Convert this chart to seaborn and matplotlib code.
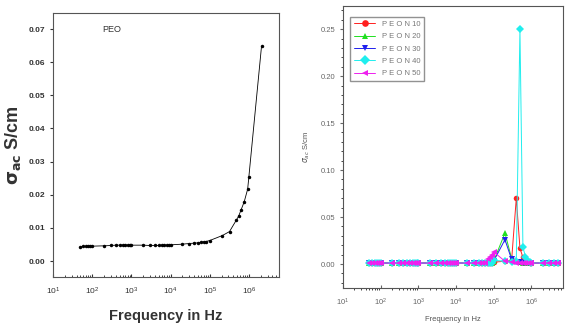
import seaborn as sns
import matplotlib.pyplot as plt
from matplotlib.ticker import LogLocator, NullFormatter, MultipleLocator

# left panel: PEO
freq_peo = [50, 60, 70, 80, 90, 100, 200, 300, 400, 500, 600, 700, 800, 900, 1000,
            2000, 3000, 4000, 5000, 6000, 7000, 8000, 9000, 10000,
            20000, 30000, 40000, 50000, 60000, 70000, 80000, 100000,
            210000, 320000, 480000, 550000, 630000, 760000, 930000, 1000000, 2100000]
sigma_peo = [0.0043, 0.0044, 0.0044, 0.0045, 0.0045, 0.0045, 0.0046, 0.0047, 0.0048, 0.0048,
             0.0048, 0.0048, 0.0048, 0.0048, 0.0048,
             0.0048, 0.0047, 0.0047, 0.0047, 0.0048, 0.0048, 0.0048, 0.0048, 0.0049,
             0.0051, 0.0053, 0.0054, 0.0055, 0.0057, 0.0058, 0.0059, 0.0062,
             0.0077, 0.0089, 0.0124, 0.0136, 0.0154, 0.0179, 0.0217, 0.0255, 0.0648]

# right panel: PEON series
freq = [50, 60, 70, 80, 90, 100, 200, 300, 400, 500, 600, 700, 800, 900, 1000,
        2000, 3000, 4000, 5000, 6000, 7000, 8000, 9000, 10000,
        20000, 30000, 40000, 50000, 60000, 70000, 80000, 90000, 100000,
        200000, 300000, 400000, 500000, 600000, 700000, 800000, 900000, 1000000,
        2000000, 3000000, 4000000, 5000000]
base = [0.001] * 32
peon10 = base + [0.002, 0.003, 0.004, 0.070, 0.017, 0.007, 0.003, 0.002, 0.001, 0.001, 0.001, 0.001, 0.001, 0.001]
peon20 = base + [0.003, 0.033, 0.006, 0.003, 0.002, 0.001, 0.001, 0.001, 0.001, 0.001, 0.001, 0.001, 0.001, 0.001]
peon30 = base + [0.003, 0.026, 0.005, 0.002, 0.002, 0.001, 0.001, 0.001, 0.001, 0.001, 0.001, 0.001, 0.001, 0.001]
peon40 = base + [0.004, 0.003, 0.002, 0.003, 0.250, 0.018, 0.008, 0.003, 0.002, 0.001, 0.001, 0.001, 0.001, 0.001]
peon50 = [0.001] * 29 + [0.005, 0.007, 0.010, 0.013, 0.003, 0.002, 0.001, 0.001, 0.001, 0.001, 0.001, 0.001, 0.001,
                         0.001, 0.001, 0.001, 0.001]

labels = ["P E O N 10", "P E O N 20", "P E O N 30", "P E O N 40", "P E O N 50"]
series = [peon10, peon20, peon30, peon40, peon50]
colors = ["#ff2020", "#20e020", "#2020ee", "#20eeee", "#ee20ee"]
markers = ["o", "^", "v", "D", "<"]

sns.set_style("ticks")
plt.rcParams["font.family"] = ["Liberation Sans", "DejaVu Sans"]

fig = plt.figure(figsize=(5.68, 3.34), dpi=100)
ax1 = fig.add_axes([0.0933, 0.1707, 0.398, 0.790])
ax2 = fig.add_axes([0.604, 0.1377, 0.387, 0.844])

# left
sns.lineplot(x=freq_peo, y=sigma_peo, ax=ax1, color="black", marker="o",
             markersize=2.5, markeredgewidth=0, linewidth=0.6)
ax1.set_xscale("log")
ax1.set_xlim(10, 10 ** 6.77)
ax1.set_ylim(-0.0048, 0.0748)
ax1.yaxis.set_major_locator(MultipleLocator(0.01))
ax1.yaxis.set_major_formatter(plt.FuncFormatter(lambda v, p: f"{v:.2f}"))
ax1.xaxis.set_major_locator(LogLocator(base=10, numticks=10))
ax1.xaxis.set_minor_locator(LogLocator(base=10, subs=range(2, 10), numticks=100))
ax1.xaxis.set_minor_formatter(NullFormatter())
ax1.tick_params(axis="x", direction="in", labelsize=6, length=2, pad=6, colors="#333333")
ax1.tick_params(axis="x", which="minor", direction="in", length=1.2)
ax1.tick_params(axis="y", labelsize=6, length=2, colors="#333333")
for t in ax1.get_yticklabels():
    t.set_fontweight("bold")
ax1.set_xlabel("Frequency in Hz", fontsize=10.5, fontweight="bold", color="#333333", labelpad=9)
ax1.set_ylabel(r"$\mathbf{\sigma_{ac}}$ S/cm", fontsize=13, fontweight="bold", color="#333333", labelpad=4)
ax1.text(0.22, 0.93, "PEO", transform=ax1.transAxes, fontsize=6.5, color="#333333")
for s in ax1.spines.values():
    s.set_color("#555555")
    s.set_linewidth(0.8)

# right
for vals, lab, c, m in zip(series, labels, colors, markers):
    sns.lineplot(x=freq, y=vals, ax=ax2, color=c, marker=m, markersize=4,
                 markeredgewidth=0, linewidth=0.7, label=lab)
ax2.set_xscale("log")
ax2.set_xlim(10, 10 ** 6.84)
ax2.set_ylim(-0.0255, 0.2745)
ax2.yaxis.set_major_locator(MultipleLocator(0.05))
ax2.yaxis.set_minor_locator(MultipleLocator(0.01))
ax2.yaxis.set_major_formatter(plt.FuncFormatter(lambda v, p: f"{v:.2f}"))
ax2.xaxis.set_major_locator(LogLocator(base=10, numticks=10))
ax2.xaxis.set_minor_locator(LogLocator(base=10, subs=range(2, 10), numticks=100))
ax2.xaxis.set_minor_formatter(NullFormatter())
ax2.tick_params(axis="both", labelsize=5.5, length=2, colors="#666666")
ax2.tick_params(axis="x", direction="in", pad=6)
ax2.tick_params(axis="both", which="minor", length=1.2)
ax2.set_xlabel("Frequency in Hz", fontsize=5.5, color="#555555", labelpad=6)
ax2.set_ylabel(r"$\sigma_{ac}$ S/cm", fontsize=5.5, color="#555555", labelpad=6)
leg = ax2.legend(loc="upper left", fontsize=5.5, frameon=True, fancybox=False,
                 borderpad=0.5, labelspacing=0.65, handlelength=2.8, markerscale=1.2,
                 bbox_to_anchor=(0.015, 0.975))
leg.get_frame().set_edgecolor("#777777")
leg.get_frame().set_linewidth(1.0)
for t in leg.get_texts():
    t.set_color("#777777")
for s in ax2.spines.values():
    s.set_color("#555555")
    s.set_linewidth(0.8)

fig.savefig("out.png", dpi=100)
